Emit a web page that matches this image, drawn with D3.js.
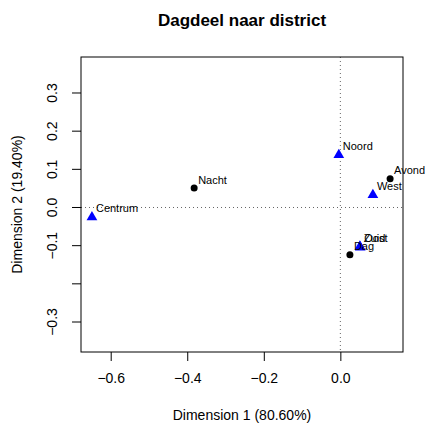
<!DOCTYPE html>
<html>
<head>
<meta charset="utf-8">
<script src="https://cdn.jsdelivr.net/npm/d3@7"></script>
<style>
  html, body { margin: 0; padding: 0; background: #fff; }
  svg { display: block; font-family: "Liberation Sans", Arial, Helvetica, sans-serif; }
</style>
</head>
<body>
<svg id="chart" width="425" height="425"></svg>
<script>
// Correspondence analysis map: districts (rows) and parts of the day (columns)
const rowLabels = ["Centrum", "Noord", "West", "Zuid", "Oost"];
const rowX = [-0.649, -0.004, 0.085, 0.051, 0.052];
const rowY = [-0.024, 0.139, 0.034, -0.101, -0.103];

const colLabels = ["Nacht", "Dag", "Avond"];
const colX = [-0.382, 0.025, 0.130];
const colY = [0.051, -0.124, 0.075];

const xTicks = [-0.6, -0.4, -0.2, 0.0];
const yTicks = [-0.3, -0.2, -0.1, 0.0, 0.1, 0.2, 0.3];
const yTickLabels = ["\u22120.3", "", "\u22120.1", "0.0", "0.1", "0.2", "0.3"];
const xTickLabels = ["\u22120.6", "\u22120.4", "\u22120.2", "0.0"];

const titleText = "Dagdeel naar district";
const xTitle = "Dimension 1 (80.60%)";
const yTitle = "Dimension 2 (19.40%)";

const svg = d3.select("#chart");
const plot = { left: 81, right: 403, top: 57, bottom: 352 };

const x = d3.scaleLinear().domain([-0.6776, 0.1637]).range([plot.left, plot.right]);
const y = d3.scaleLinear().domain([-0.3786, 0.3943]).range([plot.bottom, plot.top]);

// reference lines through the origin
const ref = svg.append("g").attr("stroke", "#666").attr("stroke-width", 1)
  .attr("stroke-dasharray", "1,3");
ref.append("line").attr("x1", x(0)).attr("x2", x(0)).attr("y1", plot.top).attr("y2", plot.bottom);
ref.append("line").attr("y1", y(0)).attr("y2", y(0)).attr("x1", plot.left).attr("x2", plot.right);

// bottom axis
const xAxis = svg.append("g").attr("transform", `translate(0,${plot.bottom})`)
  .call(d3.axisBottom(x).tickValues(xTicks).tickSize(9).tickPadding(12)
    .tickFormat((d, i) => xTickLabels[i]));
xAxis.select(".domain").remove();
xAxis.selectAll("text").attr("font-size", 14).attr("fill", "#000").attr("font-family", null);
xAxis.selectAll("line").attr("stroke", "#000");

// left axis, labels turned vertical
const yAxis = svg.append("g").attr("transform", `translate(${plot.left},0)`)
  .call(d3.axisLeft(y).tickValues(yTicks).tickSize(9).tickFormat((d, i) => yTickLabels[i]));
yAxis.select(".domain").remove();
yAxis.selectAll("line").attr("stroke", "#000");
yAxis.selectAll("text")
  .attr("font-size", 14).attr("fill", "#000").attr("font-family", null)
  .attr("x", null).attr("dy", null)
  .attr("text-anchor", "middle")
  .attr("transform", d => `translate(-24,${y(d)}) rotate(-90)`)
  .attr("y", 0);
yAxis.selectAll(".tick").attr("transform", null);
yAxis.selectAll(".tick line").attr("transform", d => `translate(0,${y(d)})`);

// frame
svg.append("rect")
  .attr("x", plot.left).attr("y", plot.top)
  .attr("width", plot.right - plot.left).attr("height", plot.bottom - plot.top)
  .attr("fill", "none").attr("stroke", "#000").attr("stroke-width", 1);

const cols = colLabels.map((l, i) => ({ label: l, x: colX[i], y: colY[i] }));
const rows = rowLabels.map((l, i) => ({ label: l, x: rowX[i], y: rowY[i] }));

// column points (filled circles)
svg.append("g").selectAll("circle").data(cols).join("circle")
  .attr("cx", d => x(d.x)).attr("cy", d => y(d.y)).attr("r", 3.5).attr("fill", "#000");

// row points (filled triangles)
const tri = d3.symbol().type(d3.symbolTriangle).size(50);
svg.append("g").selectAll("path").data(rows).join("path")
  .attr("d", tri)
  .attr("transform", d => `translate(${x(d.x)},${y(d.y) + 0.5})`)
  .attr("fill", "#0000ff");

// point labels
svg.append("g").selectAll("text").data(cols.concat(rows)).join("text")
  .attr("x", d => x(d.x) + 4)
  .attr("y", d => y(d.y) - 4.5)
  .attr("font-size", 11)
  .attr("fill", "#000")
  .text(d => d.label);

// titles
svg.append("text").attr("x", (plot.left + plot.right) / 2).attr("y", 26)
  .attr("text-anchor", "middle").attr("font-size", 17).attr("font-weight", "bold")
  .text(titleText);
svg.append("text").attr("x", (plot.left + plot.right) / 2).attr("y", 420)
  .attr("text-anchor", "middle").attr("font-size", 14).text(xTitle);
svg.append("text").attr("transform", `translate(22,${(plot.top + plot.bottom) / 2}) rotate(-90)`)
  .attr("text-anchor", "middle").attr("font-size", 14).text(yTitle);
</script>
</body>
</html>
